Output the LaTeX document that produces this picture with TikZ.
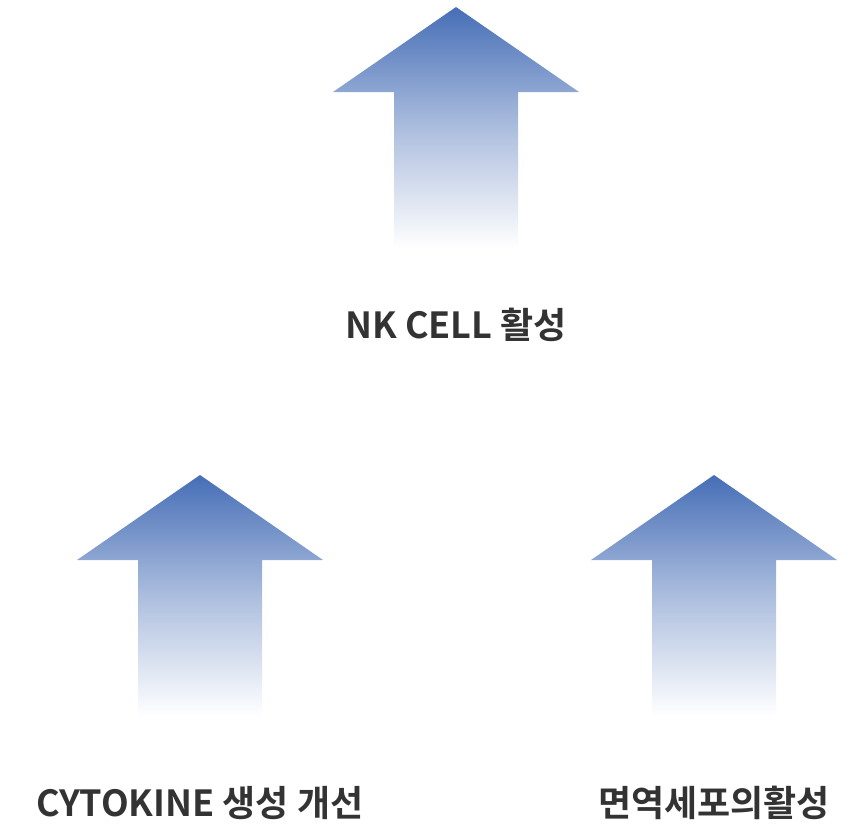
\documentclass[tikz,border=0pt]{standalone}
\usepackage{fontspec}
\setmainfont{Noto Sans CJK KR}[BoldFont={Noto Sans CJK KR Bold}]
\definecolor{arrowblue}{RGB}{70,110,182}
\definecolor{txt}{RGB}{51,51,51}
\begin{document}
\begin{tikzpicture}[x=1pt,y=-1pt,
  lbl/.style={font=\bfseries\fontsize{36}{40}\selectfont,text=txt,inner sep=0pt}]
\useasboundingbox (0,0) rectangle (864,828);
\newcommand{\uparr}[3]{% cx, tip y, bottom y
  \shade[top color=arrowblue,bottom color=white,middle color=arrowblue!45]
   (#1,#2) -- (#1+123,#2+85) -- (#1+62,#2+85) -- (#1+62,#3) -- (#1-62,#3) -- (#1-62,#2+85) -- (#1-123,#2+85) -- cycle;}
\uparr{456}{7}{248}
\uparr{200}{475}{716}
\uparr{714}{475}{716}
\node[lbl] (t1) at (456,325) {NK CELL 활성};
\node[lbl] (t2) at (200,803) {CYTOKINE 생성 개선};
\node[lbl] (t3) at (714,803) {면역세포의활성};
\end{tikzpicture}
\end{document}
